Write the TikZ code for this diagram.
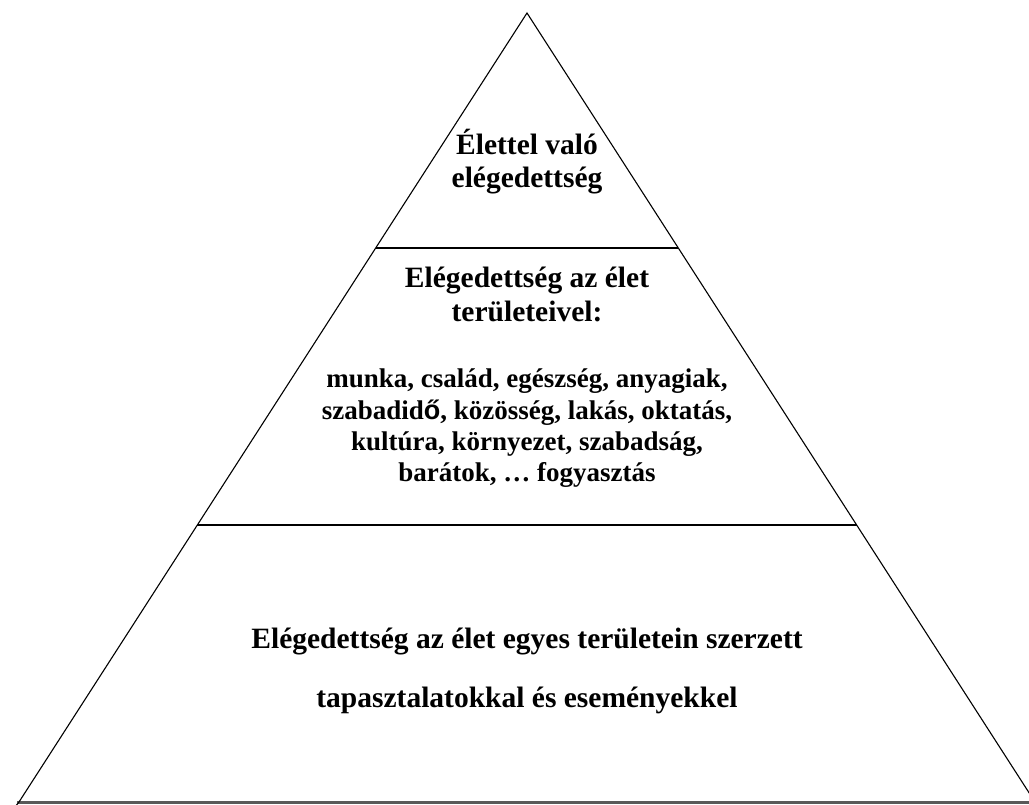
\documentclass[tikz,border=0pt]{standalone}
\usepackage{fontspec}
\setmainfont{Liberation Serif}
\newfontfamily\sansf{Liberation Sans}
\usetikzlibrary{calc}
\begin{document}
\begin{tikzpicture}[x=1pt,y=-1pt,
  side/.style={line width=1.1pt,black},
  divider/.style={line width=1.5pt,black},
  baseline/.style={line width=2.6pt,black!65},
  lbl/.style={font=\fontsize{29.5}{34}\selectfont\bfseries,anchor=base,inner sep=0pt},
  lst/.style={font=\fontsize{27}{31}\selectfont\bfseries,anchor=base,inner sep=0pt}]
\useasboundingbox (0,0) rectangle (1029,805);
\clip (0,0) rectangle (1029,805);
\coordinate (apex) at (527,13);
\coordinate (bl) at (19,802);
\coordinate (br) at (1035,802);
\coordinate (l1) at ($(apex)!0.2978!(bl)$);
\coordinate (r1) at ($(apex)!0.2978!(br)$);
\coordinate (l2) at ($(apex)!0.6489!(bl)$);
\coordinate (r2) at ($(apex)!0.6489!(br)$);
\coordinate (b0) at (17,802.5);
\coordinate (b1) at (1029,802.5);
\draw[baseline] (b0) -- (b1);
\draw[side] (bl) -- (apex) -- (br);
\draw[side] (bl) -- ++(-4,5);
\draw[divider] (l1) -- (r1);
\draw[divider] (l2) -- (r2);
\node[lbl] (ta) at (527,155) {Élettel való};
\node[lbl] (tb) at (527,188) {elégedettség};
\node[lbl] (ma) at (527,288) {Elégedettség az élet};
\node[lbl] (mb) at (527,322) {területeivel:};
\node[lst] (la) at (527,388) {munka, család, egészség, anyagiak,};
\node[lst] (lb) at (527,419) {szabadid{\sansf ő}, közösség, lakás, oktatás,};
\node[lst] (lc) at (527,450) {kultúra, környezet, szabadság,};
\node[lst] (ld) at (527,481) {barátok, … fogyasztás};
\node[lbl] (ba) at (527,648) {Elégedettség az élet egyes területein szerzett};
\node[lbl] (bb) at (527,707) {tapasztalatokkal és eseményekkel};
\end{tikzpicture}
\end{document}
